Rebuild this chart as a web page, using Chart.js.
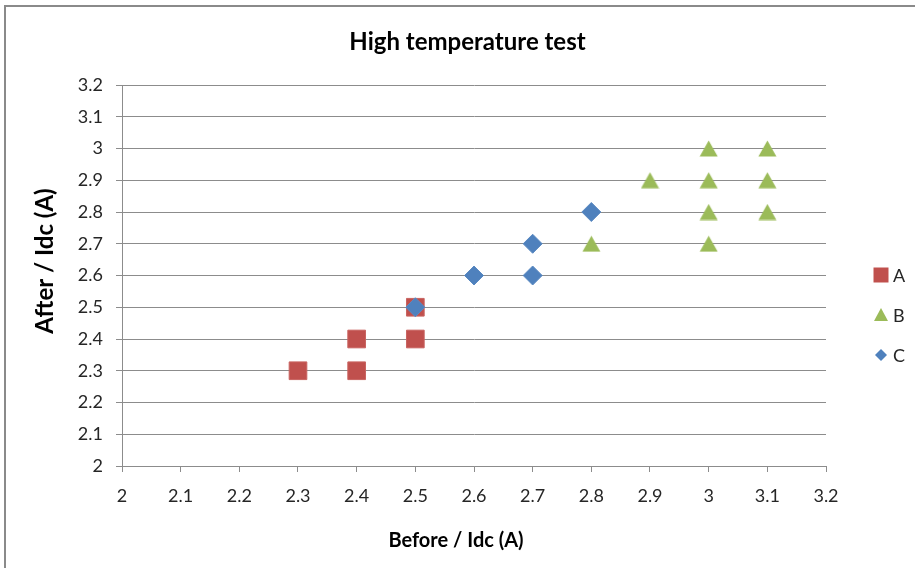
<!DOCTYPE html>
<html>
<head>
<meta charset="utf-8">
<title>High temperature test</title>
<script src="https://cdn.jsdelivr.net/npm/chart.js@4/dist/chart.umd.min.js"></script>
<style>
  html, body { margin: 0; padding: 0; background: #fff; }
  #wrap { width: 915px; height: 568px; position: relative; }
</style>
</head>
<body>
<div id="wrap"><canvas id="chart" width="915" height="568"></canvas></div>
<script>
// Series values (Before / Idc on x, After / Idc on y)
const seriesNames = ['A', 'B', 'C'];
const seriesAX = [2.3, 2.4, 2.4, 2.5, 2.5];
const seriesAY = [2.3, 2.3, 2.4, 2.4, 2.5];
const seriesBX = [2.8, 2.9, 3.0, 3.0, 3.0, 3.0, 3.1, 3.1, 3.1];
const seriesBY = [2.7, 2.9, 2.7, 2.8, 2.9, 3.0, 2.8, 2.9, 3.0];
const seriesCX = [2.5, 2.6, 2.7, 2.7, 2.8];
const seriesCY = [2.5, 2.6, 2.6, 2.7, 2.8];

// Tick labels for both axes
const xTickLabels = ['2', '2.1', '2.2', '2.3', '2.4', '2.5', '2.6', '2.7', '2.8', '2.9', '3', '3.1', '3.2'];
const yTickLabels = ['2', '2.1', '2.2', '2.3', '2.4', '2.5', '2.6', '2.7', '2.8', '2.9', '3', '3.1', '3.2'];

const chartTitle = 'High temperature test';
const xTitle = 'Before / Idc (A)';
const yTitle = 'After / Idc (A)';

const colors = { A: '#C0504D', B: '#9BBB59', C: '#4F81BD' };
const gridColor = '#8c8c8c';
const textColor = '#262626';
const FONT = 'Lato, "Open Sans", "DejaVu Sans", sans-serif';

const toPoints = (xs, ys) => xs.map((x, i) => ({ x: x, y: ys[i] }));

// Triangle marker whose bounding box is centred on the data point
function triangleMarker(w, h, fill) {
  const c = document.createElement('canvas');
  c.width = w;
  c.height = h;
  const g = c.getContext('2d');
  g.fillStyle = fill;
  g.beginPath();
  g.moveTo(w / 2, 0.5);
  g.lineTo(w - 0.5, h - 0.5);
  g.lineTo(0.5, h - 0.5);
  g.closePath();
  g.fill();
  return c;
}
const triangleImg = triangleMarker(19, 17, colors.B);

// Frame, axis titles and legend drawn around the plot
const decorations = {
  id: 'decorations',
  beforeDraw(chart) {
    const ctx = chart.ctx;
    ctx.save();
    ctx.fillStyle = '#ffffff';
    ctx.fillRect(0, 0, chart.width, chart.height);
    ctx.restore();
  },
  afterDraw(chart) {
    const ctx = chart.ctx;
    ctx.save();
    // outer frame
    ctx.strokeStyle = '#8a8a8a';
    ctx.lineWidth = 2;
    ctx.strokeRect(5, 6, 1000, 1000);

    // axis titles
    ctx.fillStyle = '#000';
    ctx.textAlign = 'center';
    ctx.textBaseline = 'middle';
    ctx.font = 'bold 20px ' + FONT;
    ctx.fillText(xTitle, 456, 541);
    ctx.save();
    ctx.translate(45, 261);
    ctx.rotate(-Math.PI / 2);
    ctx.font = 'bold 24px ' + FONT;
    ctx.fillText(yTitle, 0, 0);
    ctx.restore();

    // legend
    const rows = [275, 315, 355];
    const mx = 881;
    chart.data.datasets.forEach((ds, i) => {
      const y = rows[i];
      ctx.fillStyle = ds.backgroundColor;
      ctx.beginPath();
      if (ds.markerKind === 'square') {
        ctx.rect(mx - 7.5, y - 7.5, 15, 15);
      } else if (ds.markerKind === 'triangle') {
        ctx.moveTo(mx, y - 7);
        ctx.lineTo(mx + 7, y + 6);
        ctx.lineTo(mx - 7, y + 6);
        ctx.closePath();
      } else {
        ctx.moveTo(mx, y - 6);
        ctx.lineTo(mx + 6, y);
        ctx.lineTo(mx, y + 6);
        ctx.lineTo(mx - 6, y);
        ctx.closePath();
      }
      ctx.fill();
      ctx.fillStyle = textColor;
      ctx.textAlign = 'left';
      ctx.textBaseline = 'middle';
      ctx.font = '18px ' + FONT;
      ctx.fillText(ds.label, 893, y + 1);
    });
    ctx.restore();
  }
};

const tickFromLabels = labels => scale => {
  scale.ticks = labels.map(l => ({ value: parseFloat(l) }));
};

new Chart(document.getElementById('chart'), {
  type: 'scatter',
  data: {
    datasets: [
      {
        label: seriesNames[0],
        markerKind: 'square',
        data: toPoints(seriesAX, seriesAY),
        pointStyle: 'rect',
        pointRadius: 12.5,
        backgroundColor: colors.A,
        borderColor: '#c96461',
        borderWidth: 1,
        order: 2
      },
      {
        label: seriesNames[1],
        markerKind: 'triangle',
        data: toPoints(seriesBX, seriesBY),
        pointStyle: triangleImg,
        pointRadius: 10,
        backgroundColor: colors.B,
        borderColor: colors.B,
        borderWidth: 0,
        order: 1
      },
      {
        label: seriesNames[2],
        markerKind: 'diamond',
        data: toPoints(seriesCX, seriesCY),
        pointStyle: 'rectRot',
        pointRadius: 9.5,
        backgroundColor: colors.C,
        borderColor: '#5b8ac2',
        borderWidth: 1,
        order: 0
      }
    ]
  },
  options: {
    responsive: false,
    devicePixelRatio: 1,
    animation: false,
    layout: { padding: { left: 20, right: 0, top: 0, bottom: 0 } },
    plugins: {
      legend: { display: false },
      tooltip: { enabled: false },
      title: {
        display: true,
        text: chartTitle,
        color: '#000',
        font: { family: FONT, size: 24, weight: 'bold', lineHeight: 1.2 },
        padding: { top: 27.6, bottom: 28.6 }
      }
    },
    scales: {
      x: {
        type: 'linear',
        position: 'bottom',
        min: 2,
        max: 3.2,
        afterBuildTicks: tickFromLabels(xTickLabels),
        afterFit: s => { s.height = 102; },
        grid: {
          drawOnChartArea: false,
          drawTicks: true,
          tickLength: 6,
          color: gridColor
        },
        border: { display: true, color: gridColor, width: 1 },
        ticks: {
          autoSkip: false,
          maxRotation: 0,
          padding: 13,
          color: textColor,
          font: { family: FONT, size: 18 },
          callback: (v, i) => xTickLabels[i]
        }
      },
      y: {
        type: 'linear',
        position: 'left',
        min: 2,
        max: 3.2,
        afterBuildTicks: tickFromLabels(yTickLabels),
        afterFit: s => { s.width = 102; },
        grid: {
          drawOnChartArea: true,
          drawTicks: true,
          tickLength: 6,
          color: gridColor
        },
        border: { display: true, color: gridColor, width: 1 },
        ticks: {
          autoSkip: false,
          padding: 13,
          color: textColor,
          font: { family: FONT, size: 18 },
          callback: (v, i) => yTickLabels[i]
        }
      },
      legendSpace: {
        type: 'linear',
        position: 'right',
        display: true,
        afterFit: s => { s.width = 89; },
        grid: { display: false },
        border: { display: false },
        ticks: { display: false }
      }
    }
  },
  plugins: [decorations]
});
</script>
</body>
</html>
